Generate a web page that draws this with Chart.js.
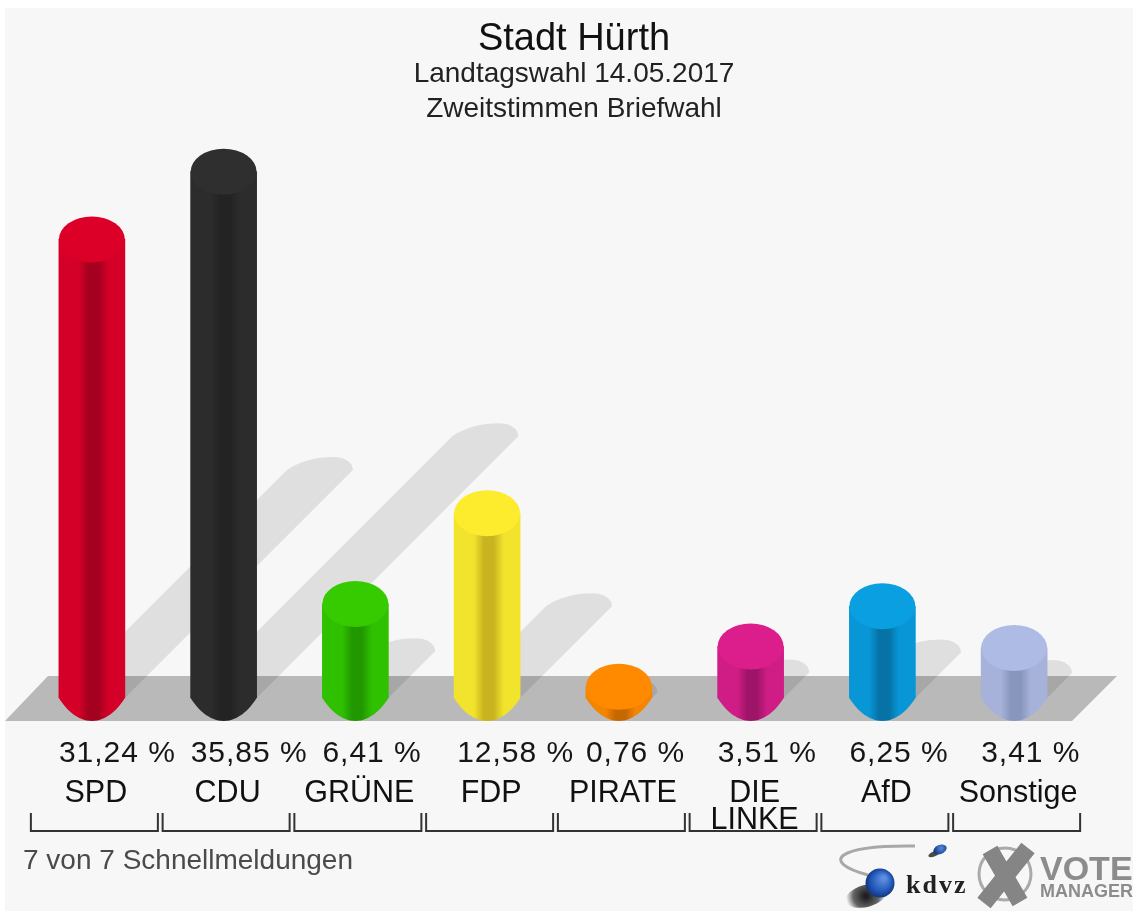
<!DOCTYPE html>
<html>
<head>
<meta charset="utf-8">
<title>Stadt Hürth</title>
<script src="https://cdn.jsdelivr.net/npm/chart.js@4/dist/chart.umd.min.js"></script>
<style>
html,body{margin:0;padding:0;background:#fff;width:1133px;height:911px;overflow:hidden}
canvas{display:block;filter:blur(.55px)}
</style>
</head>
<body>
<canvas id="c" width="1133" height="911"></canvas>
<script>
const titleText = 'Stadt Hürth';
const subtitleText = ['Landtagswahl 14.05.2017', 'Zweitstimmen Briefwahl'];
const footerText = '7 von 7 Schnellmeldungen';
const categories = ['SPD', 'CDU', 'GRÜNE', 'FDP', 'PIRATE', ['DIE', 'LINKE'], 'AfD', 'Sonstige'];
const values = [31.24, 35.85, 6.41, 12.58, 0.76, 3.51, 6.25, 3.41];
const capColors = ['#dc0028', '#2f2f2f', '#35cb00', '#fdeb2e', '#ff8a00', '#dc1e8c', '#0a9fe0', '#aebbe4'];
const edgeColors = ['#d40028', '#2c2c2c', '#2fc000', '#f2e32c', '#f58400', '#cf1d85', '#0896d6', '#a6b2da'];
const coreColors = ['#a4001f', '#232323', '#219800', '#c9b420', '#c46800', '#9e1568', '#0672a6', '#8896be'];

const FONT = '"Liberation Sans", Arial, sans-serif';
const HALF = 33, RY = 23, SHADOW = 7.3;

function bodyGradient(ctx, x, i) {
  const g = ctx.createLinearGradient(x - HALF, 0, x + HALF, 0);
  g.addColorStop(0, edgeColors[i]);
  g.addColorStop(0.3, edgeColors[i]);
  g.addColorStop(0.45, coreColors[i]);
  g.addColorStop(0.6, coreColors[i]);
  g.addColorStop(0.75, edgeColors[i]);
  g.addColorStop(1, edgeColors[i]);
  return g;
}

const backdrop = {
  id: 'backdrop',
  beforeDraw(chart) {
    const c = chart.ctx;
    const { left, right } = chart.chartArea;
    const base = chart.scales.y.getPixelForValue(0);
    c.save();
    c.fillStyle = '#f7f7f7';
    c.fillRect(5, 8, 1128, 903);
    // floor
    c.fillStyle = '#b9b9b9';
    c.beginPath();
    c.moveTo(left - 21, base + RY);
    c.lineTo(left + 22, base + RY - 45);
    c.lineTo(right + 37, base + RY - 45);
    c.lineTo(right - 8, base + RY);
    c.closePath();
    c.fill();
    // slanted shadows
    c.fillStyle = 'rgba(0,0,0,0.095)';
    const meta = chart.getDatasetMeta(0);
    meta.data.forEach((bar, i) => {
      const len = values[i] * SHADOW;
      const tx = bar.x + len, ty = base - len;
      c.beginPath();
      c.moveTo(bar.x - HALF, base);
      c.lineTo(tx - HALF, ty);
      c.bezierCurveTo(tx - 20, ty - 9, tx - 4, ty - 13, tx + 13, ty - 13);
      c.bezierCurveTo(tx + 26, ty - 13, tx + 33, ty - 7, tx + HALF, ty);
      c.lineTo(bar.x + HALF, base);
      c.closePath();
      c.fill();
    });
    c.restore();
  },
  afterLayout(chart) {
    chart.boxes.forEach(b => {
      if (b.options && b.options.position === 'top' && b.options.text) {
        b.left += 21; b.right += 21;
      }
    });
  },
  afterDatasetsDraw(chart) {
    const c = chart.ctx;
    const meta = chart.getDatasetMeta(0);
    const base = chart.scales.y.getPixelForValue(0);
    c.save();
    meta.data.forEach((bar, i) => {
      // rounded foot
      c.fillStyle = bodyGradient(c, bar.x, i);
      c.beginPath();
      c.moveTo(bar.x - HALF, base - 1);
      c.lineTo(bar.x - HALF, base);
      c.bezierCurveTo(bar.x - 27, base + 10, bar.x - 15, base + RY, bar.x, base + RY);
      c.bezierCurveTo(bar.x + 15, base + RY, bar.x + 27, base + 10, bar.x + HALF, base);
      c.lineTo(bar.x + HALF, base - 1);
      c.closePath();
      c.fill();
      // top cap
      c.fillStyle = capColors[i];
      c.beginPath();
      c.ellipse(bar.x, bar.y, HALF, RY, 0, 0, Math.PI * 2);
      c.fill();
    });
    c.restore();
  },
  afterDraw(chart) {
    const c = chart.ctx;
    const xs = chart.scales.x;
    c.save();
    // value row
    c.font = '30px ' + FONT;
    c.fillStyle = '#161616';
    c.textAlign = 'left';
    c.textBaseline = 'middle';
    c.letterSpacing = '1px';
    values.forEach((v, i) => {
      const t = v.toFixed(2).replace('.', ',') + ' %';
      c.fillText(t, xs.getPixelForValue(i) - HALF - (i === 3 ? -3 : 0), 754);
    });
    c.letterSpacing = '0px';
    // brackets
    c.strokeStyle = '#333';
    c.lineWidth = 2;
    values.forEach((v, i) => {
      const x = xs.getPixelForValue(i);
      c.beginPath();
      c.moveTo(x - 61, 813);
      c.lineTo(x - 61, 831);
      c.lineTo(x + 66, 831);
      c.lineTo(x + 66, 813);
      c.stroke();
    });
    // footer
    c.font = '28px ' + FONT;
    c.fillStyle = '#4a4a4a';
    c.fillText(footerText, 23, 861);
    drawLogos(c);
    c.restore();
  }
};

function drawLogos(c) {
  // kdvz swoosh
  c.strokeStyle = '#a8a8a8';
  c.lineWidth = 3;
  c.beginPath();
  c.moveTo(868, 875);
  c.bezierCurveTo(820, 862, 835, 845, 915, 846);
  c.stroke();
  // small sphere
  c.fillStyle = 'rgba(30,30,30,.8)';
  c.beginPath(); c.ellipse(934, 854, 6, 2.5, -0.4, 0, 7); c.fill();
  let g = c.createRadialGradient(941, 848, 1, 941, 849, 7);
  g.addColorStop(0, '#4f7fd8'); g.addColorStop(1, '#123a80');
  c.fillStyle = g;
  c.beginPath(); c.ellipse(940, 849.5, 7, 4.5, -0.4, 0, 7); c.fill();
  // large sphere
  g = c.createRadialGradient(866, 896, 2, 866, 896, 20);
  g.addColorStop(0, 'rgba(20,20,20,.95)'); g.addColorStop(.6, 'rgba(40,40,40,.7)'); g.addColorStop(1, 'rgba(60,60,60,0)');
  c.fillStyle = g;
  c.beginPath(); c.ellipse(866, 896, 21, 11, -0.25, 0, 7); c.fill();
  g = c.createRadialGradient(884, 878, 2, 880, 883, 16);
  g.addColorStop(0, '#5d8de0'); g.addColorStop(.6, '#2258b8'); g.addColorStop(1, '#0e2c70');
  c.fillStyle = g;
  c.beginPath(); c.arc(880, 883, 14.5, 0, 7); c.fill();
  // kdvz text
  c.fillStyle = '#222';
  c.font = 'bold 26px "Liberation Serif", serif';
  c.textAlign = 'left';
  c.textBaseline = 'alphabetic';
  c.letterSpacing = '2px';
  c.fillText('kdvz', 906, 893);
  c.letterSpacing = '0px';
  // X mark with ring
  c.strokeStyle = '#aaaaaa';
  c.lineWidth = 3;
  c.beginPath(); c.arc(1005, 874, 26, 0, 7); c.stroke();
  c.strokeStyle = '#858585';
  c.lineWidth = 17;
  c.beginPath();
  c.moveTo(990, 850); c.lineTo(1020, 902);
  c.moveTo(1028, 848); c.lineTo(984, 903);
  c.stroke();
  // VOTE MANAGER
  c.fillStyle = '#8c8c8c';
  c.font = 'bold 34px ' + FONT;
  c.fillText('VOTE', 1040, 880);
  c.font = 'bold 18px ' + FONT;
  c.fillText('MANAGER', 1040, 897);
}

new Chart(document.getElementById('c'), {
  type: 'bar',
  data: {
    labels: categories,
    datasets: [{
      data: values,
      barThickness: HALF * 2,
      borderWidth: 0,
      backgroundColor(ctx) {
        const xs = ctx.chart.scales.x;
        const px = xs && ctx.dataIndex !== undefined ? xs.getPixelForValue(ctx.dataIndex) : NaN;
        if (!Number.isFinite(px)) return edgeColors[ctx.dataIndex || 0];
        return bodyGradient(ctx.chart.ctx, px, ctx.dataIndex);
      }
    }]
  },
  options: {
    responsive: false,
    animation: false,
    devicePixelRatio: 1,
    layout: { padding: { left: 26, right: 53, top: 0, bottom: 0 } },
    plugins: {
      legend: { display: false },
      tooltip: { enabled: false },
      title: {
        display: true,
        text: titleText,
        color: '#111',
        font: { family: FONT, size: 38, weight: 'normal', lineHeight: 35 / 38 },
        padding: { top: 22, bottom: 0 }
      },
      subtitle: {
        display: true,
        text: subtitleText,
        color: '#222',
        font: { family: FONT, size: 28, weight: 'normal', lineHeight: 1.25 },
        padding: { top: 0, bottom: 0 }
      }
    },
    scales: {
      x: {
        grid: { display: false, drawTicks: false },
        border: { display: false },
        afterFit(s) { s.height = 213; s.paddingLeft = 0; s.paddingRight = 0; },
        ticks: {
          autoSkip: false,
          maxRotation: 0,
          minRotation: 0,
          padding: 82,
          labelOffset: 4,
          color: '#111',
          font: { family: FONT, size: 30.5, lineHeight: 27 / 30.5 }
        }
      },
      y: {
        display: false,
        min: 0,
        max: 38.9,
        grid: { display: false }
      }
    }
  },
  plugins: [backdrop]
});
</script>
</body>
</html>
